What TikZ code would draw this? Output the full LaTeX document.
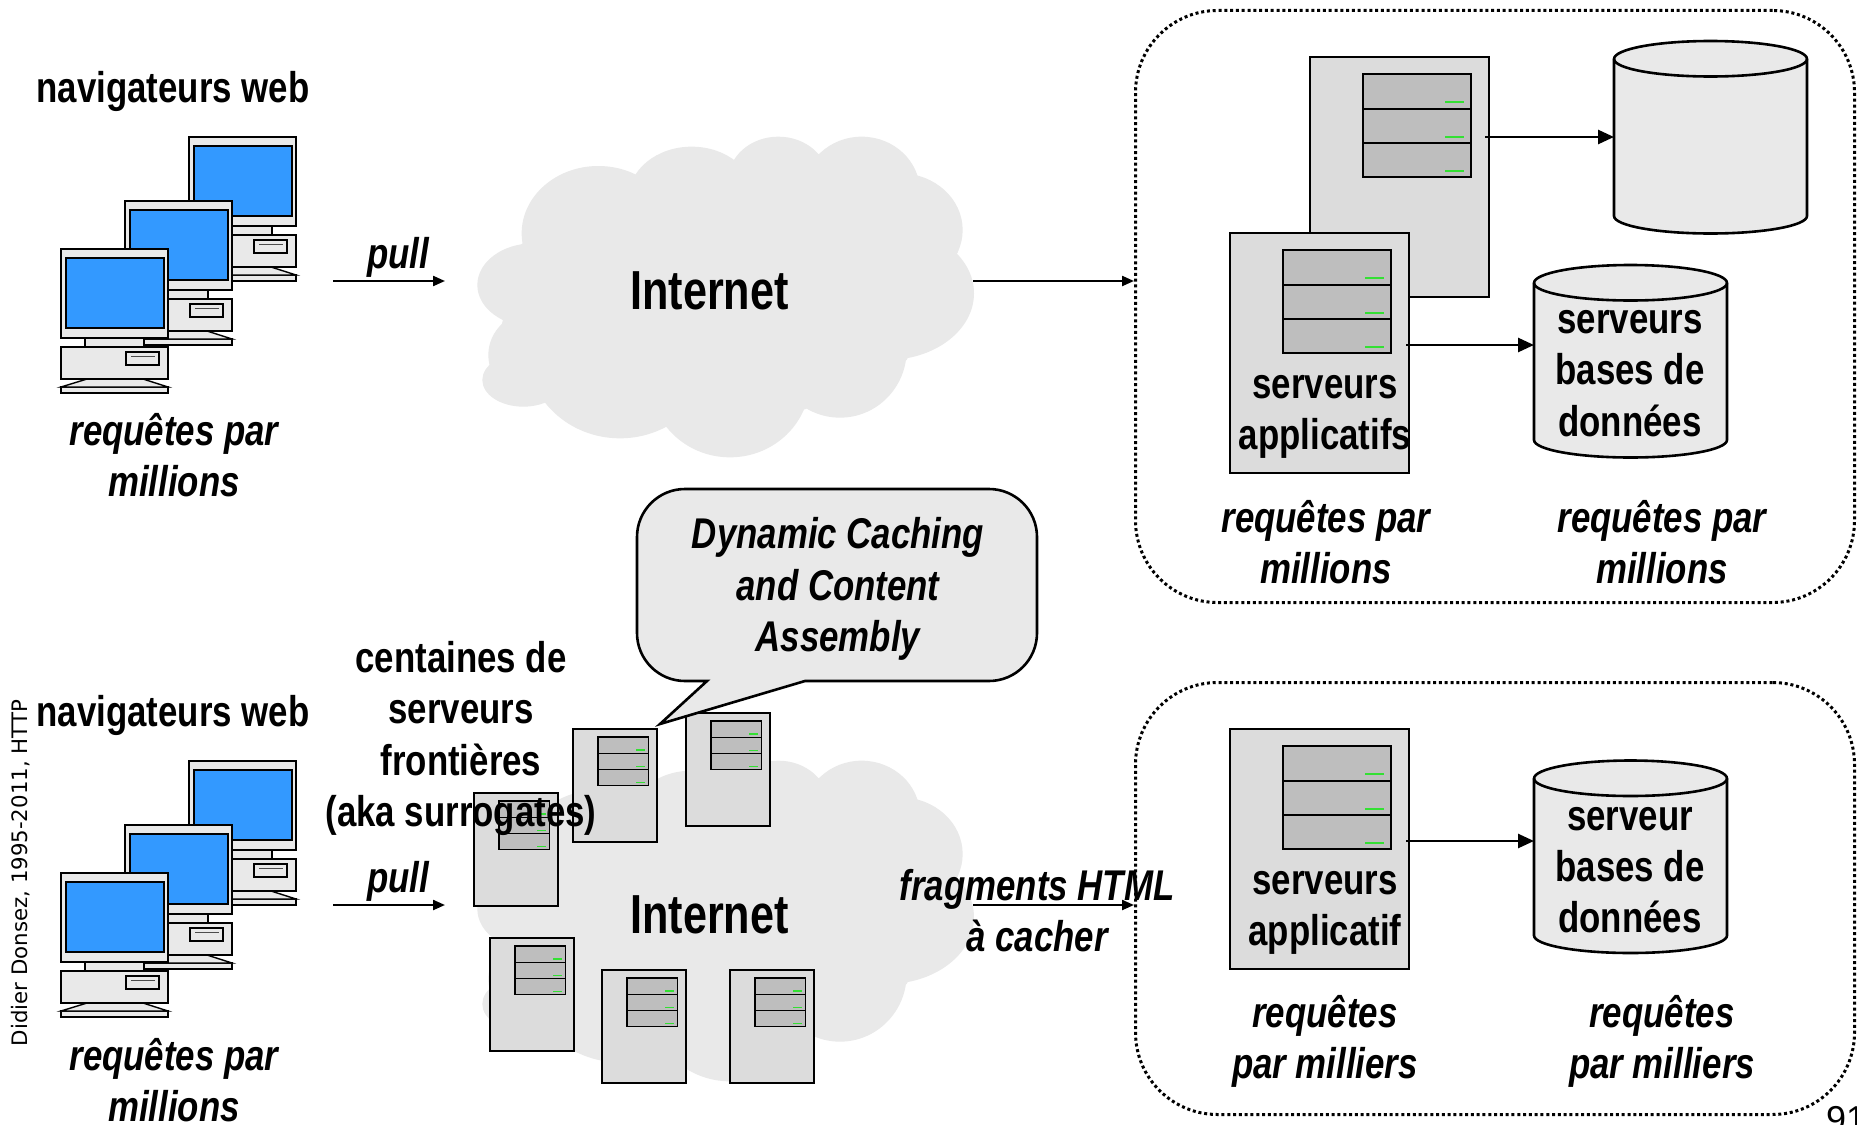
\documentclass[tikz,border=0pt]{standalone}
\usepackage{fontspec}
\setmainfont[FakeStretch=0.81]{Liberation Sans}
\newfontfamily\inetfont[FakeStretch=0.785]{Liberation Sans}
\newfontfamily\sidefont{DejaVu Sans}
\newfontfamily\numfont{Liberation Sans}
\usetikzlibrary{arrows.meta,shapes.geometric}
\definecolor{lg}{HTML}{E9E9E9}
\definecolor{tw}{HTML}{DCDCDC}
\definecolor{ti}{HTML}{BEBEBE}
\definecolor{scr}{HTML}{3399FF}
\definecolor{led}{HTML}{33E033}
\tikzset{
  lab/.style={font=\fontsize{43}{51.2}\selectfont\bfseries,align=center,text=black,inner sep=0pt},
  ilab/.style={font=\fontsize{43}{51.2}\selectfont\bfseries\itshape,align=center,text=black,inner sep=0pt},
  inet/.style={font=\inetfont\fontsize{55}{60}\selectfont\bfseries,inner sep=0pt},
  arr/.style={line width=2.6pt,-{Triangle[length=16pt,width=14pt]}},
  arrs/.style={line width=2.2pt,-{Triangle[length=12pt,width=10pt]}},
  dotbox/.style={draw,line width=3pt,dash pattern=on 3pt off 2.8pt,rounded corners=82pt,inner sep=0pt,anchor=north west,fill=none},
  cylbody/.style={draw=black,line width=2.6pt,fill=lg},
  pc/.style={draw=black,line width=1.4pt,fill=lg},
}
\newcommand{\computer}[2]{%
 \begin{scope}[shift={(#1,#2)}]
  \path[pc] (0,138) rectangle (107,144);
  \path[pc] (26,130) -- (0,138) -- (107,138) -- (82,130) -- cycle;
  \path[pc] (0,98) rectangle (107,130);
  \path[pc] (65,103) rectangle (98,116);
  \draw[line width=1.2pt,black!70] (70,107.5) -- (94,107.5);
  \path[pc] (24,89) rectangle (83,98);
  \path[pc] (0,0) rectangle (107,89);
  \path[draw=black,line width=1.4pt,fill=scr] (5,9) rectangle (103,79);
 \end{scope}}
\newcommand{\tower}[3]{%
 \begin{scope}[shift={(#1,#2)},scale=#3]
  \path[draw=black,line width=1.6pt,fill=tw] (0,0) rectangle (179,240);
  \path[draw=black,line width=1.4pt,fill=ti] (53,17) rectangle (161,120);
  \draw[black,line width=1.4pt] (53,52) -- (161,52) (53,86) -- (161,86);
  \draw[led,line width=1.4pt] (135,45) -- (154,45) (135,80) -- (154,80) (135,114) -- (154,114);
 \end{scope}}
\newcommand{\dbcyl}[2]{%
 \begin{scope}[shift={(#1,#2)}]
  \path[cylbody] (0,18) -- (0,175) arc[start angle=180,end angle=0,x radius=96.5,y radius=17.5]
     -- (193,18) arc[start angle=0,end angle=-180,x radius=96.5,y radius=18] -- cycle;
  \draw[black,line width=2.6pt] (0,18) arc[start angle=180,end angle=0,x radius=96.5,y radius=17.5];
 \end{scope}}
\newcommand{\cloud}[1]{%
 \begin{scope}[shift={(470,120+#1)},scale=0.33333]
  \fill[lg] (155,372) -- (505,165) -- (795,125) -- (1050,103) -- (1340,172) -- (1465,392)
     -- (1310,720) -- (1005,868) -- (590,920) -- (230,847) -- (60,735) -- (95,615) -- cycle;
  \fill[lg] (385,340) ellipse (230 and 202);
  \fill[lg] (665,235) ellipse (190 and 155);
  \fill[lg] (925,180) ellipse (150 and 130);
  \fill[lg] (1175,215) ellipse (175 and 165);
  \fill[lg] (1290,330) ellipse (188 and 170);
  \fill[lg] (1250,520) ellipse (262 and 200);
  \fill[lg] (1110,690) ellipse (200 and 203);
  \fill[lg] (780,780) ellipse (240 and 232);
  \fill[lg] (450,690) ellipse (280 and 265);
  \fill[lg] (160,780) ellipse (123 and 80);
  \fill[lg] (190,705) ellipse (135 and 130);
  \fill[lg] (190,495) ellipse (168 and 125);
 \end{scope}}
\begin{document}
\begin{tikzpicture}[x=1pt,y=-1pt]
\path[use as bounding box,clip] (0,0) rectangle (1857,1124);
\fill[white] (0,0) rectangle (1857,1124);

% clouds
\cloud{0}
\cloud{624}

% dotted frames
\node[dotbox,minimum width=719pt,minimum height=592pt] (frameA) at (1134,9) {};
\node[dotbox,minimum width=719pt,minimum height=432pt] (frameB) at (1134,681) {};

% computers
\computer{189}{137}\computer{125}{201}\computer{61}{249}
\computer{189}{761}\computer{125}{825}\computer{61}{873}

% top right servers
\tower{1310}{57}{1}
\tower{1230}{233}{1}
\tower{1230}{729}{1}

% small servers
\tower{686}{713}{0.47}
\tower{573}{729}{0.47}
\tower{474}{793}{0.47}
\tower{490}{938}{0.47}
\tower{602}{970}{0.47}
\tower{730}{970}{0.47}

% databases
\dbcyl{1614}{41}
\dbcyl{1534}{265}
\dbcyl{1534}{760.5}

% callout
\path[draw=black,line width=2.6pt,fill=lg]
  (685,489) -- (989,489) arc[start angle=-90,end angle=0,radius=48] -- (1037,633)
  arc[start angle=0,end angle=90,radius=48] -- (805,681) -- (660,724) -- (707,681) -- (685,681)
  arc[start angle=90,end angle=180,radius=48] -- (637,537)
  arc[start angle=180,end angle=270,radius=48] -- cycle;

% connector ends
\coordinate (pullAs) at (333,281);
\coordinate (pullAe) at (445,281);
\coordinate (pullBs) at (333,905);
\coordinate (pullBe) at (445,905);
\coordinate (cloudAe) at (973,281);
\coordinate (frameAw) at (1134,281);
\coordinate (cloudBe) at (973,905);
\coordinate (frameBw) at (1134,905);
\coordinate (twA) at (1485,137);
\coordinate (dbAw) at (1614,137);
\coordinate (twB) at (1406,345);
\coordinate (dbBw) at (1534,345);
\coordinate (twC) at (1406,841);
\coordinate (dbCw) at (1534,841);

\draw[arrs] (pullAs) -- (pullAe);
\draw[arrs] (pullBs) -- (pullBe);
\draw[arrs] (cloudAe) -- (frameAw);
\draw[arrs] (cloudBe) -- (frameBw);
\draw[arr] (twA) -- (dbAw);
\draw[arr] (twB) -- (dbBw);
\draw[arr] (twC) -- (dbCw);

% labels
\node[lab] (navA) at (173,91.5) {navigateurs web};
\node[lab] (navB) at (173,715.5) {navigateurs web};
\node[ilab] (reqA) at (174,455) {requêtes par\\millions};
\node[ilab] (reqB) at (174,1080) {requêtes par\\millions};
\node[ilab] (pullA) at (398,257) {pull};
\node[ilab] (pullB) at (398,881) {pull};
\node[inet] (inetA) at (709.5,291) {Internet};
\node[inet] (inetB) at (709.5,915) {Internet};
\node[lab] (srvA) at (1325,417) {serveurs\\applicatifs};
\node[lab] (dbtA) at (1630,373.5) {serveurs\\bases de\\données};
\node[ilab] (reqC) at (1326,542) {requêtes par\\millions};
\node[ilab] (reqD) at (1662,542) {requêtes par\\millions};
\node[ilab] (call) at (838,589) {Dynamic Caching\\and Content\\Assembly};
\node[lab] (cent) at (461,738.5) {centaines de\\serveurs\\frontières\\(aka surrogates)};
\node[ilab] (frag) at (1037,911) {fragments HTML\\à cacher};
\node[lab] (srvB) at (1325,913) {serveurs\\applicatif};
\node[lab] (dbtB) at (1630,870) {serveur\\bases de\\données};
\node[ilab] (reqE) at (1325,1041.5) {requêtes\\par milliers};
\node[ilab] (reqF) at (1662,1041.5) {requêtes\\par milliers};
\node[font=\sidefont\fontsize{21.3}{24}\selectfont,rotate=90,inner sep=0pt] (side) at (21,873) {Didier Donsez, 1995-2011, HTTP};
\node[font=\numfont\fontsize{36}{40}\selectfont,anchor=base west,inner sep=0pt] (num) at (1826,1131) {91};
\end{tikzpicture}
\end{document}
